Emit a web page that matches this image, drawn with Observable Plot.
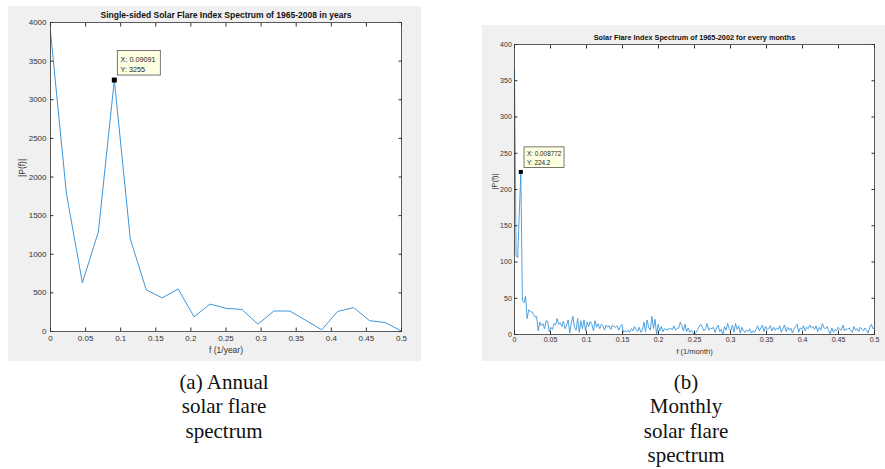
<!DOCTYPE html>
<html>
<head>
<meta charset="utf-8">
<script src="https://cdn.jsdelivr.net/npm/d3@7"></script>
<script src="https://cdn.jsdelivr.net/npm/@observablehq/plot@0.6"></script>
<style>
  body { margin: 0; width: 885px; height: 469px; background: #fff; position: relative; overflow: hidden; }
  .panel { position: absolute; }
  .cap { position: absolute; font-family: "Liberation Serif", "Times New Roman", serif; font-size: 21px; line-height: 24.3px; text-align: center; color: #111; }
</style>
</head>
<body>
<div id="annual" class="panel" style="left:8px;top:6px"></div>
<div id="monthly" class="panel" style="left:482px;top:25px"></div>
<div class="cap" style="left:144px;width:160px;top:370px">(a) Annual<br>solar flare<br>spectrum</div>
<div class="cap" style="left:606px;width:160px;top:370px">(b)<br>Monthly<br>solar flare<br>spectrum</div>
<script>
// Single-sided amplitude spectra |P(f)| of the solar flare index.

// Annual series, 1965–2008 (44 samples → bins k/44, k = 0..22)
const annualTitle = "Single-sided Solar Flare Index Spectrum of 1965-2008 in years";
const annualSamples = 44;
const annualMagnitude = [3880, 1780, 630, 1290, 3255, 1200, 540, 435, 550, 190, 355, 300,
  285, 95, 265, 265, 145, 22, 260, 310, 140, 115, 5];

// Monthly series, 1965–2002 (456 samples → bins k/456, k = 0..228)
const monthlyTitle = "Solar Flare Index Spectrum of 1965-2002 for every months";
const monthlySamples = 456;
const monthlyMagnitude = [
  365, 109, 106, 165, 224.2, 47, 44, 53, 22, 34,
  32, 31, 28, 24, 25, 5, 17, 12, 15, 8,
  19, 18, 4, 10, 7, 15, 13, 22, 14, 16,
  11, 18, 8, 13, 20, 2, 16, 25, 10, 6,
  22, 3, 19, 8, 20, 5, 17, 11, 18, 14,
  5, 19, 10, 15, 8, 14, 12, 6, 13, 10,
  12, 7, 13, 11, 10, 12, 6, 11, 14, 3,
  5, 4, 6, 3, 8, 5, 11, 7, 4, 10,
  3, 6, 17, 4, 20, 10, 6, 25, 8, 21,
  0, 14, 5, 11, 4, 8, 7, 6, 9, 8,
  7, 12, 6, 8, 9, 17, 12, 5, 14, 4,
  9, 3, 6, 2, 0, 3, 7, 11, 14, 10,
  5, 8, 15, 6, 9, 8, 10, 3, 9, 13,
  4, 7, 0, 11, 6, 15, 8, 5, 13, 3,
  15, 7, 12, 2, 10, 5, 3, 6, 4, 8,
  2, 5, 3, 7, 12, 5, 9, 13, 4, 11,
  7, 8, 12, 5, 10, 6, 9, 7, 12, 3,
  8, 13, 4, 10, 6, 9, 2, 8, 11, 14,
  3, 9, 7, 12, 5, 10, 8, 13, 9, 11,
  7, 12, 4, 10, 6, 15, 9, 8, 11, 5,
  1, 9, 3, 7, 5, 10, 7, 6, 13, 5,
  8, 7, 9, 5, 3, 11, 6, 8, 4, 10,
  7, 5, 9, 6, 2, 10, 14, 8, 9
];

// Axis ticks
const freqTicks = [0, 0.05, 0.1, 0.15, 0.2, 0.25, 0.3, 0.35, 0.4, 0.45, 0.5];
const annualYTicks = [0, 500, 1000, 1500, 2000, 2500, 3000, 3500, 4000];
const monthlyYTicks = [0, 50, 100, 150, 200, 250, 300, 350, 400];

// Bin index of the ~11-year cycle peak marked with a data tip
const peakBin = 4;

const sans = "'Liberation Sans', Arial, Helvetica, sans-serif";
const lineColor = "#3d97dc";
const inkColor = "#333";

function spectrum(o) {
  const rows = o.values.map((p, k) => ({f: k / o.samples, p}));
  const peak = rows[peakBin];
  const tickFmt = d3.format("~g");
  const tipFmt = d3.format(".4~g");
  const t = o.tip; // data-tip box geometry, in pixels relative to the marked point
  return Plot.plot({
    width: o.width,
    height: o.height,
    marginLeft: o.margin[0],
    marginRight: o.margin[1],
    marginTop: o.margin[2],
    marginBottom: o.margin[3],
    style: {background: "#f0f0f0", color: inkColor, fontFamily: sans, overflow: "visible"},
    x: {domain: [0, 0.5]},
    y: {domain: o.yDomain},
    marks: [
      Plot.frame({fill: "white", stroke: "none"}),
      Plot.line(rows, {x: "f", y: "p", stroke: lineColor, strokeWidth: o.lineWidth}),
      Plot.axisX({anchor: "bottom", ticks: freqTicks, tickSize: -3.5, tickPadding: o.padX,
        tickFormat: tickFmt, fontSize: o.tickSize, label: null}),
      // inward tick marks only on the top and right edges (box style)
      Plot.axisX({anchor: "top", ticks: freqTicks, tickSize: -3.5, fill: "none", label: null}),
      Plot.axisY({anchor: "left", ticks: o.yTicks, tickSize: -3.5, tickPadding: o.padY,
        tickFormat: tickFmt, fontSize: o.tickSize, label: null}),
      Plot.axisY({anchor: "right", ticks: o.yTicks, tickSize: -3.5, fill: "none", label: null}),
      Plot.frame({stroke: inkColor, strokeWidth: 0.8}),
      Plot.text([o.title], {text: (d) => d, frameAnchor: "top", dy: o.titleDy,
        fontWeight: "bold", fontSize: o.titleSize, lineAnchor: "middle", fill: "#111"}),
      Plot.text([o.xLabel], {text: (d) => d, frameAnchor: "bottom", dy: o.xLabelDy,
        fontSize: o.labelSize, lineAnchor: "middle"}),
      Plot.text(["|P(f)|"], {text: (d) => d, frameAnchor: "left", dx: o.yLabelDx,
        rotate: -90, fontSize: o.labelSize, lineAnchor: "middle"}),
      // data tip: marker, box and the two value lines
      Plot.dot([peak], {x: "f", y: "p", symbol: "square", fill: "black", r: o.markerR}),
      Plot.rect([peak], {
        x1: "f", x2: "f", y1: "p", y2: "p",
        insetLeft: t.gapX, insetRight: -(t.gapX + t.w),
        insetTop: -(t.gapY + t.h), insetBottom: t.gapY,
        fill: "#ffffe1", stroke: "#555", strokeWidth: 0.8
      }),
      Plot.text([peak], {x: "f", y: "p", text: (d) => `X: ${tipFmt(d.f)}`,
        dx: t.textDx, dy: t.line1, textAnchor: "start", lineAnchor: "middle",
        fontSize: t.font, fill: "#222"}),
      Plot.text([peak], {x: "f", y: "p", text: (d) => `Y: ${tipFmt(d.p)}`,
        dx: t.textDx, dy: t.line2, textAnchor: "start", lineAnchor: "middle",
        fontSize: t.font, fill: "#222"})
    ]
  });
}

document.getElementById("annual").append(spectrum({
  values: annualMagnitude, samples: annualSamples, title: annualTitle, xLabel: "f (1/year)",
  yDomain: [0, 4000], yTicks: annualYTicks,
  width: 413, height: 355, margin: [42, 20, 16, 30],
  tickSize: 8, labelSize: 8.5, titleSize: 8.5, titleDy: -7.3, xLabelDy: 19, yLabelDx: -28,
  padX: 7, padY: 7.5, lineWidth: 1, markerR: 2.8,
  tip: {w: 43, h: 24.5, gapX: 3.5, gapY: 4.5, textDx: 6.3, line1: -20.8, line2: -10.8, font: 7.2}
}));

document.getElementById("monthly").append(spectrum({
  values: monthlyMagnitude, samples: monthlySamples, title: monthlyTitle, xLabel: "f (1/month)",
  yDomain: [0, 400], yTicks: monthlyYTicks,
  width: 403, height: 336, margin: [32, 11, 19, 27],
  tickSize: 7, labelSize: 7.5, titleSize: 7.3, titleDy: -6.7, xLabelDy: 17, yLabelDx: -20,
  padX: 6.5, padY: 6.2, lineWidth: 0.9, markerR: 2.26,
  tip: {w: 40, h: 20.7, gapX: 3.7, gapY: 3.9, textDx: 6.1, line1: -17.6, line2: -8.9, font: 6.4}
}));
</script>
</body>
</html>
